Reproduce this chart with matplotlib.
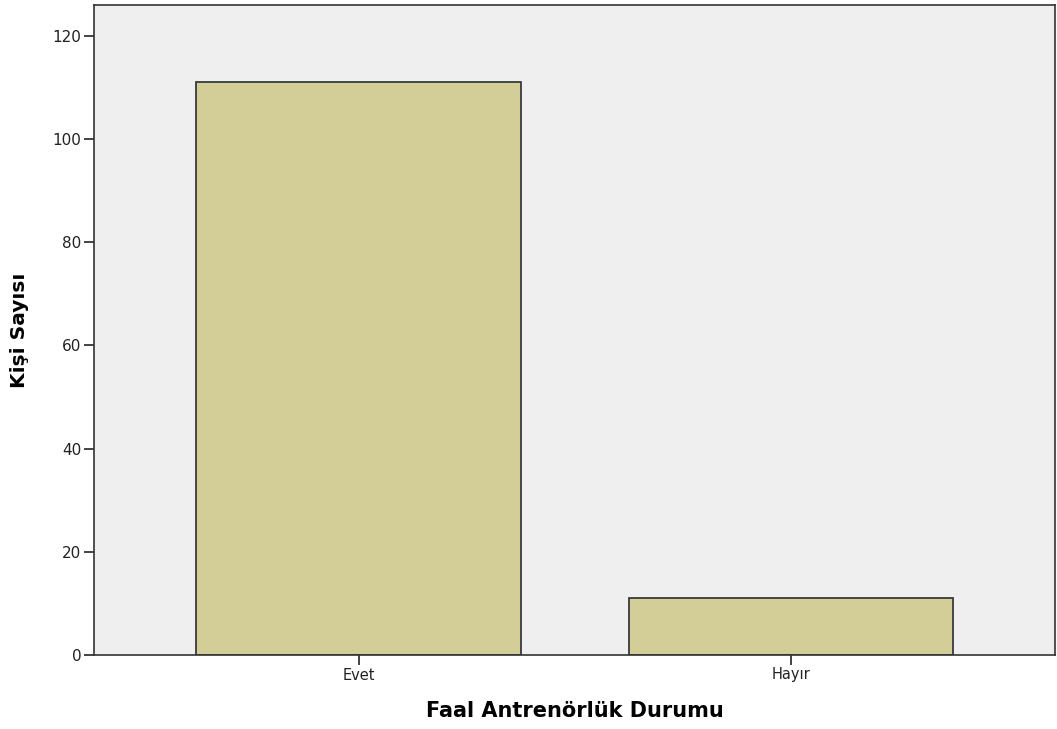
import matplotlib
matplotlib.use("Agg")
import matplotlib.pyplot as plt

categories = ["Evet", "Hayır"]
counts = [111, 11]
y_ticks = [0, 20, 40, 60, 80, 100, 120]

plt.rcParams['font.family'] = ['DejaVu Sans']

fig = plt.figure(figsize=(10.57, 7.29), dpi=100)
ax = fig.add_axes([94/1057, 74/729, 961/1057, 650/729])
ax.set_facecolor('#EFEFEF')

x = list(range(len(categories)))
ax.bar(x, counts, width=0.75, color='#D3CE98', edgecolor='#3a3a3a', linewidth=1.3, zorder=2)

ax.set_xlim(-0.612, 1.611)
ax.set_ylim(0, 126)
ax.set_xticks(x)
ax.set_xticklabels(categories, fontsize=10.5, color='#222222')
ax.set_yticks(y_ticks)
ax.set_yticklabels([str(v) for v in y_ticks], fontsize=11, color='#222222')
ax.tick_params(axis='both', direction='out', length=7, width=1.2, color='#222222', pad=2)

for s in ax.spines.values():
    s.set_color('#333333')
    s.set_linewidth(1.2)

ax.set_xlabel("Faal Antrenörlük Durumu", fontsize=15, fontweight='bold', labelpad=13)
ax.set_ylabel("Kişi Sayısı", fontsize=14.5, fontweight='bold', labelpad=17)

fig.savefig("out.png", dpi=100)
